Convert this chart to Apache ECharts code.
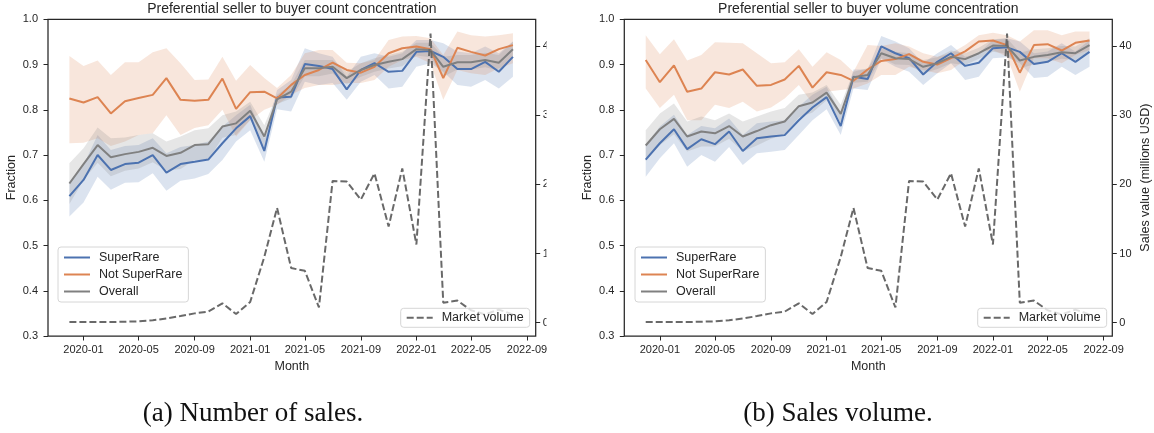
<!DOCTYPE html>
<html><head><meta charset="utf-8">
<script src="https://cdn.jsdelivr.net/npm/echarts@6/dist/echarts.min.js"></script>
<style>html,body{margin:0;padding:0;background:#fff}#c{width:1154px;height:433px}</style>
</head><body><div id="c"></div>
<script>
const months = ['2019-12','2020-01','2020-02','2020-03','2020-04','2020-05','2020-06','2020-07','2020-08','2020-09','2020-10','2020-11','2020-12',
 '2021-01','2021-02','2021-03','2021-04','2021-05','2021-06','2021-07','2021-08','2021-09','2021-10','2021-11','2021-12',
 '2022-01','2022-02','2022-03','2022-04','2022-05','2022-06','2022-07','2022-08'];
const xTicks = ['2020-01','2020-05','2020-09','2021-01','2021-05','2021-09','2022-01','2022-05','2022-09'];
const volTicks = [0,10,20,30,40];

// Count concentration (left)
const countSR   = [0.609,0.645,0.700,0.667,0.680,0.683,0.700,0.661,0.680,0.685,0.690,0.726,0.759,0.786,0.709,0.827,0.829,0.901,0.897,0.890,0.845,0.888,0.903,0.884,0.886,0.928,0.930,0.917,0.890,0.890,0.906,0.884,0.917];
const countSRLo = [0.564,0.595,0.652,0.623,0.639,0.640,0.660,0.621,0.643,0.648,0.658,0.689,0.730,0.755,0.685,0.801,0.796,0.862,0.855,0.859,0.822,0.862,0.877,0.847,0.851,0.895,0.903,0.884,0.855,0.851,0.866,0.847,0.873];
const countSRHi = [0.641,0.678,0.744,0.711,0.720,0.722,0.737,0.704,0.718,0.722,0.730,0.763,0.788,0.811,0.737,0.844,0.866,0.936,0.925,0.917,0.873,0.917,0.925,0.917,0.925,0.954,0.954,0.947,0.929,0.925,0.940,0.925,0.951];
const countNS   = [0.825,0.816,0.828,0.792,0.819,0.826,0.833,0.870,0.822,0.820,0.822,0.869,0.802,0.839,0.840,0.825,0.855,0.877,0.888,0.904,0.888,0.882,0.895,0.925,0.936,0.940,0.934,0.870,0.937,0.928,0.920,0.934,0.943];
const countNSLo = [0.726,0.727,0.737,0.720,0.730,0.744,0.748,0.788,0.744,0.760,0.766,0.800,0.741,0.777,0.800,0.811,0.833,0.848,0.855,0.855,0.859,0.859,0.866,0.895,0.910,0.917,0.903,0.822,0.888,0.881,0.877,0.892,0.903];
const countNSHi = [0.919,0.897,0.909,0.877,0.905,0.905,0.927,0.936,0.903,0.866,0.867,0.917,0.864,0.899,0.870,0.848,0.877,0.925,0.932,0.932,0.904,0.903,0.910,0.954,0.962,0.963,0.958,0.921,0.973,0.965,0.962,0.965,0.969];
const countOV   = [0.637,0.680,0.722,0.695,0.702,0.707,0.716,0.698,0.705,0.722,0.724,0.763,0.770,0.798,0.741,0.823,0.840,0.892,0.892,0.895,0.870,0.888,0.899,0.906,0.912,0.934,0.932,0.895,0.905,0.905,0.910,0.904,0.934];
const countOVLo = [0.592,0.645,0.683,0.653,0.665,0.670,0.684,0.666,0.669,0.689,0.689,0.738,0.744,0.778,0.716,0.813,0.825,0.874,0.874,0.880,0.856,0.873,0.884,0.891,0.896,0.920,0.916,0.873,0.889,0.889,0.894,0.887,0.917];
const countOVHi = [0.682,0.715,0.761,0.737,0.739,0.744,0.748,0.730,0.741,0.755,0.759,0.788,0.796,0.818,0.766,0.833,0.855,0.910,0.910,0.910,0.884,0.903,0.914,0.921,0.928,0.948,0.948,0.917,0.921,0.921,0.926,0.921,0.951];

// Volume concentration (right)
const volSR   = [0.690,0.726,0.757,0.713,0.735,0.724,0.752,0.709,0.737,0.741,0.744,0.777,0.805,0.828,0.764,0.873,0.868,0.940,0.925,0.914,0.878,0.906,0.925,0.897,0.904,0.936,0.938,0.928,0.901,0.906,0.925,0.906,0.928];
const volSRLo = [0.652,0.693,0.726,0.674,0.700,0.685,0.718,0.678,0.704,0.707,0.711,0.744,0.777,0.801,0.744,0.847,0.844,0.912,0.895,0.884,0.855,0.881,0.903,0.866,0.873,0.914,0.916,0.903,0.870,0.873,0.895,0.877,0.895];
const volSRHi = [0.722,0.763,0.789,0.744,0.764,0.759,0.781,0.744,0.770,0.774,0.777,0.807,0.833,0.851,0.792,0.889,0.889,0.963,0.951,0.936,0.903,0.925,0.943,0.917,0.925,0.954,0.958,0.951,0.925,0.929,0.947,0.929,0.954];
const volNS   = [0.910,0.861,0.898,0.840,0.847,0.883,0.878,0.889,0.853,0.855,0.867,0.897,0.849,0.883,0.877,0.864,0.889,0.908,0.912,0.923,0.906,0.900,0.914,0.929,0.951,0.953,0.943,0.882,0.943,0.945,0.931,0.948,0.953];
const volNSLo = [0.847,0.804,0.833,0.777,0.777,0.811,0.804,0.818,0.796,0.805,0.825,0.855,0.814,0.840,0.844,0.847,0.858,0.877,0.877,0.895,0.888,0.881,0.888,0.910,0.928,0.932,0.917,0.840,0.914,0.914,0.903,0.921,0.932];
const volNSHi = [0.965,0.923,0.956,0.909,0.921,0.949,0.948,0.947,0.925,0.903,0.905,0.934,0.895,0.927,0.910,0.884,0.943,0.941,0.947,0.940,0.925,0.917,0.925,0.943,0.965,0.970,0.965,0.951,0.976,0.976,0.965,0.973,0.973];
const volOV   = [0.721,0.757,0.780,0.741,0.752,0.748,0.764,0.741,0.753,0.766,0.774,0.808,0.816,0.838,0.791,0.872,0.877,0.925,0.914,0.912,0.895,0.903,0.917,0.912,0.925,0.942,0.941,0.909,0.917,0.921,0.927,0.925,0.943];
const volOVLo = [0.687,0.722,0.746,0.708,0.719,0.719,0.736,0.708,0.721,0.736,0.744,0.783,0.794,0.821,0.771,0.860,0.862,0.914,0.900,0.899,0.880,0.890,0.903,0.899,0.913,0.928,0.924,0.892,0.900,0.906,0.913,0.910,0.928];
const volOVHi = [0.755,0.792,0.814,0.774,0.785,0.777,0.792,0.774,0.785,0.796,0.804,0.833,0.838,0.855,0.811,0.884,0.892,0.936,0.928,0.925,0.910,0.916,0.931,0.925,0.937,0.956,0.958,0.926,0.934,0.936,0.941,0.940,0.958];

// Market volume (millions USD)
const marketVolume = [0.1,0.1,0.1,0.1,0.15,0.2,0.35,0.6,0.96,1.35,1.6,2.8,1.25,3.0,9.5,16.6,7.9,7.5,2.2,20.5,20.4,17.8,21.6,13.9,22.3,11.3,41.8,2.9,3.2,1.8,1.2,1.9,1.2];

const FONT = 'Liberation Sans';
const INK = '#262626';
const COL = {sr:'#4C72B0', ns:'#DD8452', ov:'#808080', mv:'#696969'};

function ts(m){ const p = m.split('-').map(Number); return Date.UTC(p[0], p[1]-1, 1); }
function fmt(v){ const d = new Date(v); return d.getUTCFullYear() + '-' + String(d.getUTCMonth()+1).padStart(2,'0'); }
const T = months.map(ts);
const xMin = Date.UTC(2019, 9, 15), xMax = Date.UTC(2022, 8, 20);

function rgba(hex, a){ const n = parseInt(hex.slice(1),16); return 'rgba('+((n>>16)&255)+','+((n>>8)&255)+','+(n&255)+','+a+')'; }

function band(xi, yi, lo, hi, color){
  const data = T.map((t,i)=>[t, lo[i], hi[i]]);
  return {type:'custom', xAxisIndex:xi, yAxisIndex:yi, silent:true, z:2, animation:false,
    data, encode:{x:0, y:[1,2]}, clip:true,
    renderItem(params, api){
      if (params.dataIndex !== 0) return null;
      const pts = [];
      for (let i=0;i<data.length;i++) pts.push(api.coord([data[i][0], data[i][2]]));
      for (let i=data.length-1;i>=0;i--) pts.push(api.coord([data[i][0], data[i][1]]));
      return {type:'polygon', shape:{points:pts}, style:{fill:rgba(color,0.2), stroke:null}};
    }};
}
function line(name, xi, yi, vals, color, dashed){
  return {type:'line', name, xAxisIndex:xi, yAxisIndex:yi, data:T.map((t,i)=>[t, vals[i]]),
    symbol:'none', z: dashed ? 4 : 3, animation:false, silent:true,
    lineStyle:{color, width:2, type: dashed ? [7,3] : 'solid'}, itemStyle:{color}};
}

const xAxisBase = (gi) => ({type:'value', gridIndex:gi, min:xMin, max:xMax,
  name:'Month', nameLocation:'middle', nameGap:21,
  nameTextStyle:{fontFamily:FONT, fontSize:12.5, color:INK},
  axisLine:{show:false, onZero:false}, splitLine:{show:false},
  axisTick:{show:true, inside:false, length:4.5, lineStyle:{color:INK, width:1}, customValues:xTicks.map(ts)},
  axisLabel:{fontFamily:FONT, fontSize:11, color:INK, margin:8, customValues:xTicks.map(ts), formatter:fmt}});
const fracAxis = (gi) => ({type:'value', gridIndex:gi, position:'left', min:0.3, max:1.0, interval:0.1,
  name:'Fraction', nameLocation:'middle', nameGap:30, nameRotate:90, nameMoveOverlap:false,
  nameTextStyle:{fontFamily:FONT, fontSize:12.5, color:INK},
  axisLine:{show:false, onZero:false}, splitLine:{show:false},
  axisTick:{show:true, length:4.5, lineStyle:{color:INK, width:1}},
  axisLabel:{fontFamily:FONT, fontSize:11, color:INK, margin:10, formatter:v=>v.toFixed(1)}});
const volAxis = (gi, named) => ({type:'value', gridIndex:gi, position:'right', min:-1.92, max:43.86,
  name: named ? 'Sales value (millions USD)' : '', nameLocation:'middle', nameGap:27, nameRotate:90,
  nameTextStyle:{fontFamily:FONT, fontSize:12.5, color:INK},
  axisLine:{show:false, onZero:false}, splitLine:{show:false},
  axisTick:{show:true, length:4.5, lineStyle:{color:INK, width:1}, customValues:volTicks},
  axisLabel:{fontFamily:FONT, fontSize:11, color:INK, margin:7, customValues:volTicks}});

const legendBox = {orient:'vertical', itemWidth:26, itemHeight:14, itemGap:4, selectedMode:false, z:10,
  itemStyle:{opacity:0, borderWidth:0},
  backgroundColor:'rgba(255,255,255,0.8)', borderColor:'#d6d6d6', borderWidth:1, borderRadius:3,
  textStyle:{fontFamily:FONT, fontSize:12.5, color:INK, padding:[0,0,0,4]}};

const option = {
  animation:false,
  backgroundColor:'#fff',
  title:[
    {text:'Preferential seller to buyer count concentration', left:291.9, top:2, textAlign:'center', padding:0,
     textStyle:{fontFamily:FONT, fontSize:14, fontWeight:'normal', color:INK}},
    {text:'Preferential seller to buyer volume concentration', left:868.3, top:2, textAlign:'center', padding:0,
     textStyle:{fontFamily:FONT, fontSize:14, fontWeight:'normal', color:INK}},
    {text:'(a) Number of sales.', left:253, top:400, textAlign:'center', padding:0,
     textStyle:{fontFamily:'Liberation Serif', fontSize:27, fontWeight:'normal', color:'#111'}},
    {text:'(b) Sales volume.', left:838, top:400, textAlign:'center', padding:0,
     textStyle:{fontFamily:'Liberation Serif', fontSize:27, fontWeight:'normal', color:'#111'}}
  ],
  grid:[
    {left:48, top:19.3, width:487.7, height:316.7, show:true, borderColor:INK, borderWidth:1.25, backgroundColor:'transparent'},
    {left:624.3, top:19.3, width:488, height:316.7, show:true, borderColor:INK, borderWidth:1.25, backgroundColor:'transparent'}
  ],
  xAxis:[xAxisBase(0), xAxisBase(1)],
  yAxis:[fracAxis(0), volAxis(0,false), fracAxis(1), volAxis(1,true)],
  legend:[
    Object.assign({}, legendBox, {data:['SuperRare','Not SuperRare','Overall'], left:58, top:247, padding:[4,6,4,5]}),
    Object.assign({}, legendBox, {data:['SuperRare','Not SuperRare','Overall'], left:635, top:247, padding:[4,6,4,5]}),
    Object.assign({}, legendBox, {data:['Market volume'], left:400.7, top:308.3, padding:[3,6,3,5]}),
    Object.assign({}, legendBox, {data:['Market volume'], left:977.7, top:308.3, padding:[3,6,3,5]})
  ],
  graphic:[{type:'rect', shape:{x:546.5, y:0, width:35, height:345}, style:{fill:'#fff'}, z:100, silent:true}],
  series:[
    band(0,0,countSRLo,countSRHi,COL.sr),
    band(0,0,countNSLo,countNSHi,COL.ns),
    band(0,0,countOVLo,countOVHi,COL.ov),
    line('SuperRare',0,0,countSR,COL.sr),
    line('Not SuperRare',0,0,countNS,COL.ns),
    line('Overall',0,0,countOV,COL.ov),
    line('Market volume',0,1,marketVolume,COL.mv,true),
    band(1,2,volSRLo,volSRHi,COL.sr),
    band(1,2,volNSLo,volNSHi,COL.ns),
    band(1,2,volOVLo,volOVHi,COL.ov),
    line('SuperRare',1,2,volSR,COL.sr),
    line('Not SuperRare',1,2,volNS,COL.ns),
    line('Overall',1,2,volOV,COL.ov),
    line('Market volume',1,3,marketVolume,COL.mv,true)
  ]
};
const chart = echarts.init(document.getElementById('c'), null, {renderer:'canvas'});
chart.setOption(option);
</script>
</body></html>
